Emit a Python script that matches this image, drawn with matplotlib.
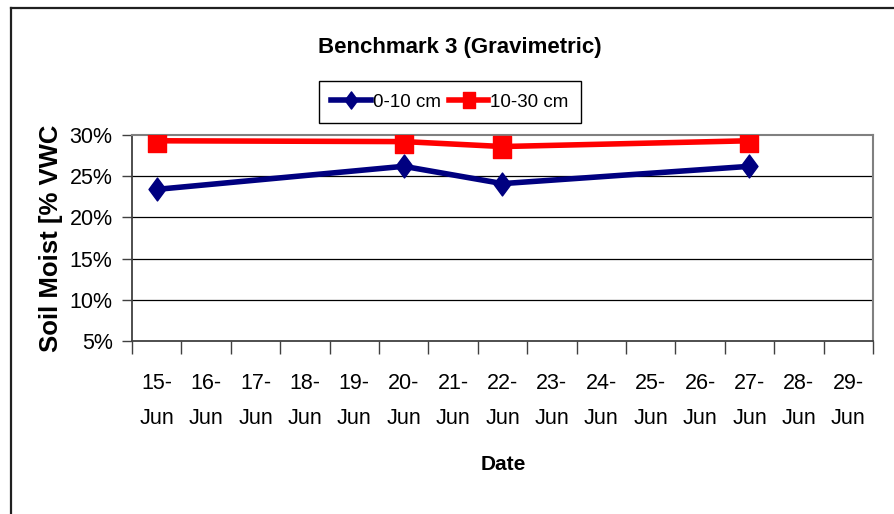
import matplotlib
matplotlib.use("Agg")
import matplotlib.pyplot as plt
from matplotlib.path import Path
from matplotlib.lines import Line2D

# data
dates = ["15-Jun", "16-Jun", "17-Jun", "18-Jun", "19-Jun", "20-Jun", "21-Jun", "22-Jun",
         "23-Jun", "24-Jun", "25-Jun", "26-Jun", "27-Jun", "28-Jun", "29-Jun"]
sample_dates = ["15-Jun", "20-Jun", "22-Jun", "27-Jun"]
moist_0_10 = [0.234, 0.262, 0.241, 0.262]
moist_10_30 = [0.293, 0.292, 0.286, 0.293]
y_ticks = [0.05, 0.10, 0.15, 0.20, 0.25, 0.30]

FONT = ["Liberation Sans", "DejaVu Sans"]

diamond = Path([(0, 1), (0.74, 0), (0, -1), (-0.74, 0), (0, 1)],
               [Path.MOVETO, Path.LINETO, Path.LINETO, Path.LINETO, Path.CLOSEPOLY])
square = Path([(-0.77, -1), (0.77, -1), (0.77, 1), (-0.77, 1), (-0.77, -1)],
              [Path.MOVETO, Path.LINETO, Path.LINETO, Path.LINETO, Path.CLOSEPOLY])

fig = plt.figure(figsize=(8.95, 5.14), dpi=100)
ax = fig.add_axes([132 / 895, 1 - 341 / 514, (873 - 132) / 895, (341 - 135) / 514])

xpos = [dates.index(d) for d in sample_dates]
ax.plot(xpos, moist_0_10, color="#000080", lw=4, marker=diamond, ms=16.5,
        label="0-10 cm", zorder=4)
ax.plot(xpos, moist_10_30, color="#ff0000", lw=4, marker=square, ms=16,
        label="10-30 cm", zorder=3)

ax.set_xlim(-0.5, len(dates) - 0.5)
ax.set_ylim(0.05, 0.30)

# tick marks on category boundaries, labels at category centres
ax.set_xticks([i - 0.5 for i in range(len(dates) + 1)])
ax.set_xticklabels([])
ax.set_xticks(range(len(dates)), minor=True)
ax.set_xticklabels([d.replace("-", "-\n") for d in dates], minor=True,
                   family=FONT, fontsize=15.5, linespacing=1.85)
ax.tick_params(axis="x", which="major", length=9, width=1, color="#404040", direction="out")
ax.tick_params(axis="x", which="minor", length=0, pad=23)

ax.set_yticks(y_ticks)
ax.set_yticklabels([f"{int(round(v * 100))}%" for v in y_ticks], family=FONT, fontsize=15.5)
ax.tick_params(axis="y", length=7, width=1, color="#404040", pad=7)

for v in y_ticks[1:-1]:
    ax.axhline(v, color="black", lw=0.9, zorder=1)

ax.spines["left"].set_color("#404040")
ax.spines["bottom"].set_color("#404040")
ax.spines["left"].set_linewidth(1.3)
ax.spines["bottom"].set_linewidth(1.3)
ax.spines["top"].set_color("#808080")
ax.spines["right"].set_color("#808080")
ax.spines["top"].set_linewidth(1.5)
ax.spines["right"].set_linewidth(1.5)

fig.text(460 / 895, 1 - 47 / 514, "Benchmark 3 (Gravimetric)", family=FONT,
         fontweight="bold", fontsize=16, ha="center", va="center")
fig.text(503 / 895, 1 - 465 / 514, "Date", family=FONT, fontweight="bold",
         fontsize=15, ha="center", va="center")
fig.text(51 / 895, 1 - 238 / 514, "Soil Moist [% VWC", family=FONT, fontweight="bold",
         fontsize=18.5, rotation=90, ha="center", va="center")

leg = fig.legend(loc="center", bbox_to_anchor=(450 / 895, 1 - 102 / 514), ncol=2,
                 prop={"family": FONT, "size": 13.5}, frameon=True, fancybox=False,
                 edgecolor="black", framealpha=1, handlelength=2.1, handletextpad=0.1,
                 columnspacing=0.45, borderpad=0.65, markerscale=0.75)
leg.get_frame().set_linewidth(1)

# chart-area border (left and top edges visible)
fig.add_artist(Line2D([11 / 895, 11 / 895], [0, 1 - 8 / 514], color="#202020", lw=1.6))
fig.add_artist(Line2D([11 / 895, 1], [1 - 8 / 514, 1 - 8 / 514], color="#202020", lw=1.6))

fig.savefig("out.png", dpi=100)
